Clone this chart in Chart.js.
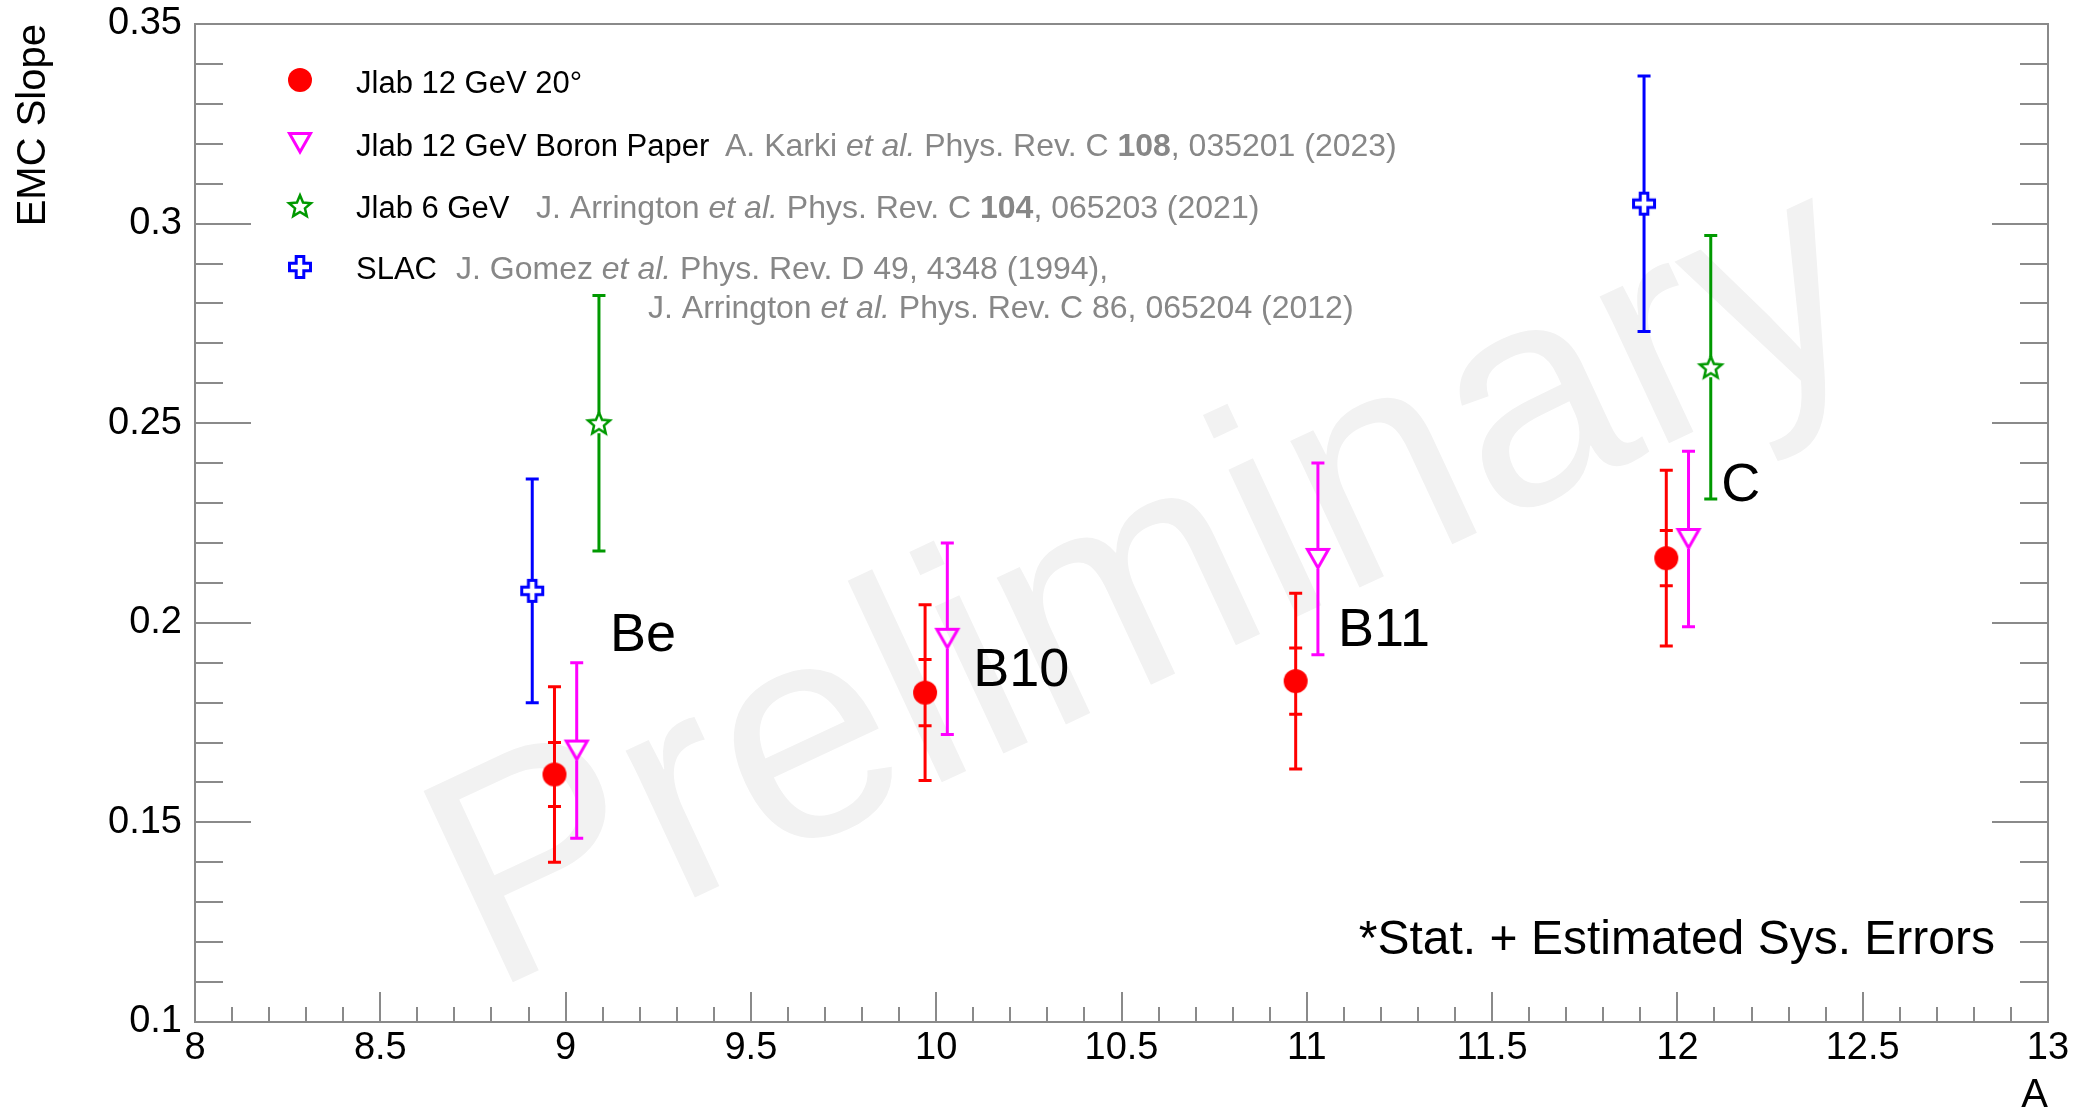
<!DOCTYPE html>
<html>
<head>
<meta charset="utf-8">
<script src="https://cdn.jsdelivr.net/npm/chart.js@4.4.0/dist/chart.umd.min.js"></script>
<style>
  html, body { margin: 0; padding: 0; background: #fff; }
  canvas { display: block; }
</style>
</head>
<body>
<canvas id="emcChart" width="2085" height="1112"></canvas>
<script>
// --- Data ---
const nuclei = ["Be", "B10", "B11", "C"];

const jlab12A = [8.97, 9.97, 10.97, 11.97];
const jlab12Slope = [0.162, 0.1825, 0.1854, 0.2162];
const jlab12Err = [0.022, 0.022, 0.022, 0.022];
const jlab12Stat = [0.008, 0.0083, 0.0083, 0.0069];

const boronA = [9.03, 10.03, 11.03, 12.03];
const boronSlope = [0.168, 0.196, 0.216, 0.221];
const boronErr = [0.022, 0.024, 0.024, 0.022];

const jlab6A = [9.09, 12.09];
const jlab6Slope = [0.250, 0.264];
const jlab6Err = [0.032, 0.033];

const slacA = [8.91, 11.91];
const slacSlope = [0.208, 0.305];
const slacErr = [0.028, 0.032];

const xTickValues = [8, 8.5, 9, 9.5, 10, 10.5, 11, 11.5, 12, 12.5, 13];
const yTickValues = [0.1, 0.15, 0.2, 0.25, 0.3, 0.35];

const FONT = "'Liberation Sans', Arial, Helvetica, sans-serif";
const AXIS_GRAY = "#8a8a8a";
const REF_GRAY = "#878787";

// --- Marker images (ROOT style) ---
function makeMarker(kind, color) {
  const c = document.createElement("canvas");
  c.width = 30; c.height = 30;
  const g = c.getContext("2d");
  g.translate(15, 15);
  g.strokeStyle = color;
  g.fillStyle = color;
  g.lineWidth = 3;
  g.lineJoin = "miter";
  g.beginPath();
  if (kind === "circle") {
    g.arc(0, 0, 12, 0, Math.PI * 2);
    g.fill();
    return c;
  }
  if (kind === "triangle") {
    g.moveTo(-10.5, -9.5);
    g.lineTo(10.5, -9.5);
    g.lineTo(0, 9);
  } else if (kind === "star") {
    g.lineWidth = 2.5;
    for (let i = 0; i < 10; i++) {
      const r = i % 2 === 0 ? 11.5 : 5.2;
      const a = -Math.PI / 2 + i * Math.PI / 5;
      const px = r * Math.cos(a), py = r * Math.sin(a) + 0.8;
      if (i === 0) g.moveTo(px, py); else g.lineTo(px, py);
    }
  } else if (kind === "cross") {
    const o = 10.5, a = 3.8;
    const pts = [[-a,-o],[a,-o],[a,-a],[o,-a],[o,a],[a,a],[a,o],[-a,o],[-a,a],[-o,a],[-o,-a],[-a,-a]];
    pts.forEach((p, i) => i === 0 ? g.moveTo(p[0], p[1]) : g.lineTo(p[0], p[1]));
  }
  g.closePath();
  g.stroke();
  return c;
}

const markers = {
  red: makeMarker("circle", "#ff0000"),
  magenta: makeMarker("triangle", "#ff00ff"),
  green: makeMarker("star", "#009900"),
  blue: makeMarker("cross", "#0000ff")
};

function points(xs, ys) {
  return xs.map((x, i) => ({ x: x, y: ys[i] }));
}

// --- Error bars ---
const errorBars = {
  id: "errorBars",
  beforeDatasetsDraw(chart) {
    const { ctx, scales: { x, y } } = chart;
    ctx.save();
    ctx.lineWidth = 3;
    chart.data.datasets.forEach(ds => {
      ctx.strokeStyle = ds.barColor;
      ds.data.forEach((p, i) => {
        const px = x.getPixelForValue(p.x);
        const pc = y.getPixelForValue(p.y);
        const pt = y.getPixelForValue(p.y + ds.err[i]);
        const pb = y.getPixelForValue(p.y - ds.err[i]);
        const gap = 10;
        ctx.beginPath();
        ctx.moveTo(px, pc - gap); ctx.lineTo(px, pt);
        ctx.moveTo(px, pc + gap); ctx.lineTo(px, pb);
        ctx.moveTo(px - 6.5, pt); ctx.lineTo(px + 6.5, pt);
        ctx.moveTo(px - 6.5, pb); ctx.lineTo(px + 6.5, pb);
        if (ds.stat) {
          const st = y.getPixelForValue(p.y + ds.stat[i]);
          const sb = y.getPixelForValue(p.y - ds.stat[i]);
          ctx.moveTo(px - 6.5, st); ctx.lineTo(px + 6.5, st);
          ctx.moveTo(px - 6.5, sb); ctx.lineTo(px + 6.5, sb);
        }
        ctx.stroke();
      });
    });
    ctx.restore();
  }
};

// --- Watermark behind the data ---
const watermark = {
  id: "watermark",
  beforeDatasetsDraw(chart) {
    const { ctx, chartArea: a } = chart;
    ctx.save();
    ctx.translate(a.left + 295, a.bottom - 29);
    ctx.rotate(-25 * Math.PI / 180);
    ctx.font = `307px ${FONT}`;
    ctx.fillStyle = "#f2f2f2";
    ctx.textAlign = "left";
    ctx.textBaseline = "alphabetic";
    ctx.fillText("Preliminary", 0, 0);
    ctx.restore();
  }
};

// --- Frame, ticks, titles, legend, labels ---
function drawRuns(ctx, x, y, runs, size) {
  runs.forEach(r => {
    ctx.font = `${r.i ? "italic " : ""}${r.b ? "bold " : ""}${size}px ${FONT}`;
    ctx.fillStyle = r.c || "#000";
    ctx.fillText(r.t, x, y);
    x += ctx.measureText(r.t).width;
  });
}

const legendRows = [
  { marker: "red", name: "Jlab 12 GeV 20°", refX: 0, ref: [] },
  { marker: "magenta", name: "Jlab 12 GeV Boron Paper", refX: 530,
    ref: [{ t: "A. Karki " }, { t: "et al.", i: true }, { t: " Phys. Rev. C " }, { t: "108", b: true }, { t: ", 035201 (2023)" }] },
  { marker: "green", name: "Jlab 6 GeV", refX: 341,
    ref: [{ t: "J. Arrington " }, { t: "et al.", i: true }, { t: " Phys. Rev. C " }, { t: "104", b: true }, { t: ", 065203 (2021)" }] },
  { marker: "blue", name: "SLAC", refX: 261,
    ref: [{ t: "J. Gomez " }, { t: "et al.", i: true }, { t: " Phys. Rev. D 49, 4348 (1994)," }] },
  { marker: null, name: "", refX: 453,
    ref: [{ t: "J. Arrington " }, { t: "et al.", i: true }, { t: " Phys. Rev. C 86, 065204 (2012)" }] }
];

const decorations = {
  id: "decorations",
  afterDraw(chart) {
    const { ctx, chartArea: a, scales: { x, y } } = chart;
    ctx.save();

    // frame
    ctx.strokeStyle = AXIS_GRAY;
    ctx.lineWidth = 2;
    ctx.strokeRect(a.left, a.top, a.right - a.left, a.bottom - a.top);

    // ticks on left/right and bottom
    ctx.beginPath();
    for (let i = 0; i <= 25; i++) {
      const py = Math.round(y.getPixelForValue(0.1 + i * 0.01));
      const len = i % 5 === 0 ? 56 : 28;
      ctx.moveTo(a.left, py); ctx.lineTo(a.left + len, py);
      ctx.moveTo(a.right, py); ctx.lineTo(a.right - len, py);
    }
    for (let i = 0; i <= 50; i++) {
      const px = Math.round(x.getPixelForValue(8 + i * 0.1));
      const len = i % 5 === 0 ? 30 : 15;
      ctx.moveTo(px, a.bottom); ctx.lineTo(px, a.bottom - len);
    }
    ctx.stroke();

    // axis titles
    ctx.fillStyle = "#000";
    ctx.font = `40px ${FONT}`;
    ctx.textAlign = "right";
    ctx.textBaseline = "alphabetic";
    ctx.fillText("A", a.right, a.bottom + 85);
    ctx.save();
    ctx.translate(a.left - 150, a.top);
    ctx.rotate(-Math.PI / 2);
    ctx.fillText("EMC Slope", 0, 0);
    ctx.restore();

    // note
    ctx.font = `48px ${FONT}`;
    ctx.fillText("*Stat. + Estimated Sys. Errors", a.right - 53, a.bottom - 68);

    // nucleus labels
    ctx.textAlign = "left";
    ctx.font = `54px ${FONT}`;
    const labelAnchors = [[9.12, 0.193], [10.10, 0.1842], [11.084, 0.1942], [12.118, 0.2305]];
    nuclei.forEach((n, i) => {
      ctx.fillText(n, x.getPixelForValue(labelAnchors[i][0]), y.getPixelForValue(labelAnchors[i][1]));
    });

    // legend
    const baselines = [93, 156, 218, 279, 318];
    const markerY = [80, 143, 206, 267];
    legendRows.forEach((row, i) => {
      if (row.marker) {
        const m = markers[row.marker];
        ctx.drawImage(m, a.left + 105 - m.width / 2, markerY[i] - m.height / 2);
        drawRuns(ctx, a.left + 161, baselines[i], [{ t: row.name }], 31);
      }
      if (row.ref.length) {
        drawRuns(ctx, a.left + row.refX, baselines[i], row.ref.map(r => Object.assign({ c: REF_GRAY }, r)), 32);
      }
    });

    ctx.restore();
  }
};

const tickLabel = v => String(parseFloat(Number(v).toFixed(3)));

const ctx = document.getElementById("emcChart").getContext("2d");
new Chart(ctx, {
  type: "scatter",
  data: {
    datasets: [
      { label: "SLAC", data: points(slacA, slacSlope), err: slacErr, barColor: "#0000ff",
        pointStyle: markers.blue, pointRadius: 12 },
      { label: "Jlab 6 GeV", data: points(jlab6A, jlab6Slope), err: jlab6Err, barColor: "#009900",
        pointStyle: markers.green, pointRadius: 12 },
      { label: "Jlab 12 GeV Boron Paper", data: points(boronA, boronSlope), err: boronErr, barColor: "#ff00ff",
        pointStyle: markers.magenta, pointRadius: 12 },
      { label: "Jlab 12 GeV 20°", data: points(jlab12A, jlab12Slope), err: jlab12Err, stat: jlab12Stat, barColor: "#ff0000",
        pointStyle: markers.red, pointRadius: 12 }
    ]
  },
  options: {
    responsive: false,
    animation: false,
    layout: { padding: { top: 24, right: 37, left: 0, bottom: 0 } },
    plugins: {
      legend: { display: false },
      tooltip: { enabled: false }
    },
    scales: {
      x: {
        type: "linear",
        min: 8, max: 13,
        afterFit: s => { s.height = 90; s.paddingLeft = 0; s.paddingRight = 0; },
        afterBuildTicks: s => { s.ticks = xTickValues.map(v => ({ value: v })); },
        grid: { display: false, drawTicks: false },
        border: { display: false },
        ticks: { padding: 4, color: "#000", maxRotation: 0, autoSkip: false,
                 font: { size: 38, family: FONT }, callback: tickLabel }
      },
      y: {
        type: "linear",
        min: 0.1, max: 0.35,
        afterFit: s => { s.width = 195; s.paddingTop = 0; s.paddingBottom = 0; },
        afterBuildTicks: s => { s.ticks = yTickValues.map(v => ({ value: v })); },
        grid: { display: false, drawTicks: false },
        border: { display: false },
        ticks: { padding: 13, color: "#000", autoSkip: false,
                 font: { size: 38, family: FONT }, callback: tickLabel }
      }
    }
  },
  plugins: [watermark, errorBars, decorations]
});
</script>
</body>
</html>
